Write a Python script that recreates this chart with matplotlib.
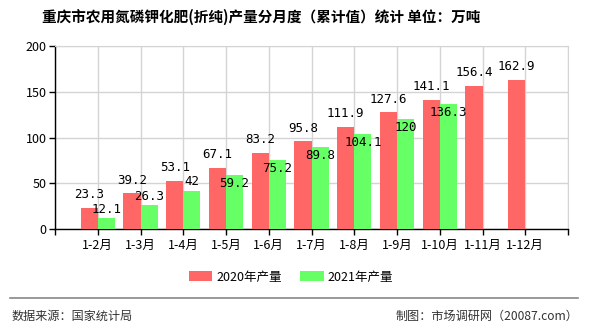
import matplotlib
matplotlib.use("Agg")
import matplotlib.pyplot as plt
from matplotlib.patches import Patch
from matplotlib.lines import Line2D
import numpy as np

plt.rcParams['font.family'] = ['Noto Sans CJK SC', 'DejaVu Sans']

categories = ["1-2月", "1-3月", "1-4月", "1-5月", "1-6月", "1-7月", "1-8月",
              "1-9月", "1-10月", "1-11月", "1-12月"]
values_2020 = [23.3, 39.2, 53.1, 67.1, 83.2, 95.8, 111.9, 127.6, 141.1, 156.4, 162.9]
values_2021 = [12.1, 26.3, 42, 59.2, 75.2, 89.8, 104.1, 120, 136.3]
labels_2020 = ["23.3", "39.2", "53.1", "67.1", "83.2", "95.8", "111.9", "127.6", "141.1", "156.4", "162.9"]
labels_2021 = ["12.1", "26.3", "42", "59.2", "75.2", "89.8", "104.1", "120", "136.3"]
series_names = ["2020年产量", "2021年产量"]
yticks = [0, 50, 100, 150, 200]

RED = "#ff6666"
GREEN = "#66ff66"
GRID = "#d4d4d4"

fig = plt.figure(figsize=(5.9, 3.3), dpi=100)
ax = fig.add_axes([55/590, 1-229.3/330, (568-55)/590, (229.3-46)/330])

x = np.arange(1, len(categories) + 1)
w = 0.4
ax.bar(x - w/2, values_2020, width=w, color=RED, zorder=3)
x21 = x[:len(values_2021)]
ax.bar(x21 + w/2, values_2021, width=w, color=GREEN, zorder=3)

ax.set_xlim(0, 12)
ax.set_ylim(0, 200)
ax.set_xticks(list(range(0, 13)))
ax.set_xticklabels([""] + categories + [""])
ax.set_yticks(yticks)
ax.set_yticklabels([str(t) for t in yticks])

ax.grid(True, color=GRID, linewidth=1, zorder=0)
for s in ["top", "right"]:
    ax.spines[s].set_color(GRID)
for s in ["left", "bottom"]:
    ax.spines[s].set_color("black")
    ax.spines[s].set_linewidth(1)
ax.tick_params(axis="both", direction="out", length=4, width=1, colors="black",
               labelsize=9, pad=2)
ax.tick_params(axis="x", pad=3)

lab_font = dict(fontsize=9, color="black", family=['DejaVu Sans Mono', 'Noto Sans CJK SC'])
for xi, v, t in zip(x, values_2020, labels_2020):
    ax.annotate(t, (xi - w/2, v), xytext=(0, 9.5), textcoords="offset points",
                ha="center", va="center", zorder=5, **lab_font)
for xi, v, r, t in zip(x21, values_2021, values_2020, labels_2021):
    off = 6.5 if (r - v) >= 10 else -6
    ax.annotate(t, (xi + w/2, v), xytext=(0, off), textcoords="offset points",
                ha="center", va="center", zorder=5, **lab_font)

fig.text(261/590, 1-17/330, "重庆市农用氮磷钾化肥(折纯)产量分月度（累计值）统计 单位：万吨",
         ha="center", va="center", fontsize=10.5, fontweight="bold")

handles = [Patch(facecolor=RED, edgecolor="none"), Patch(facecolor=GREEN, edgecolor="none")]
fig.legend(handles, series_names, loc="center", bbox_to_anchor=(291/590, 1-277/330),
           ncol=2, frameon=False, fontsize=9, handlelength=1.9, handleheight=0.8,
           handletextpad=0.3, columnspacing=1.5)

fig.add_artist(Line2D([10/590, 578/590], [1-298/330, 1-298/330], color="#888888",
                      linewidth=1.2, transform=fig.transFigure))
fig.text(12/590, 1-316/330, "数据来源：国家统计局", ha="left", va="center",
         fontsize=8.7, color="#333333")
fig.text(578/590, 1-316/330, "制图：市场调研网（20087.com）", ha="right", va="center",
         fontsize=8.7, color="#333333")

fig.savefig("out.png", dpi=100)
